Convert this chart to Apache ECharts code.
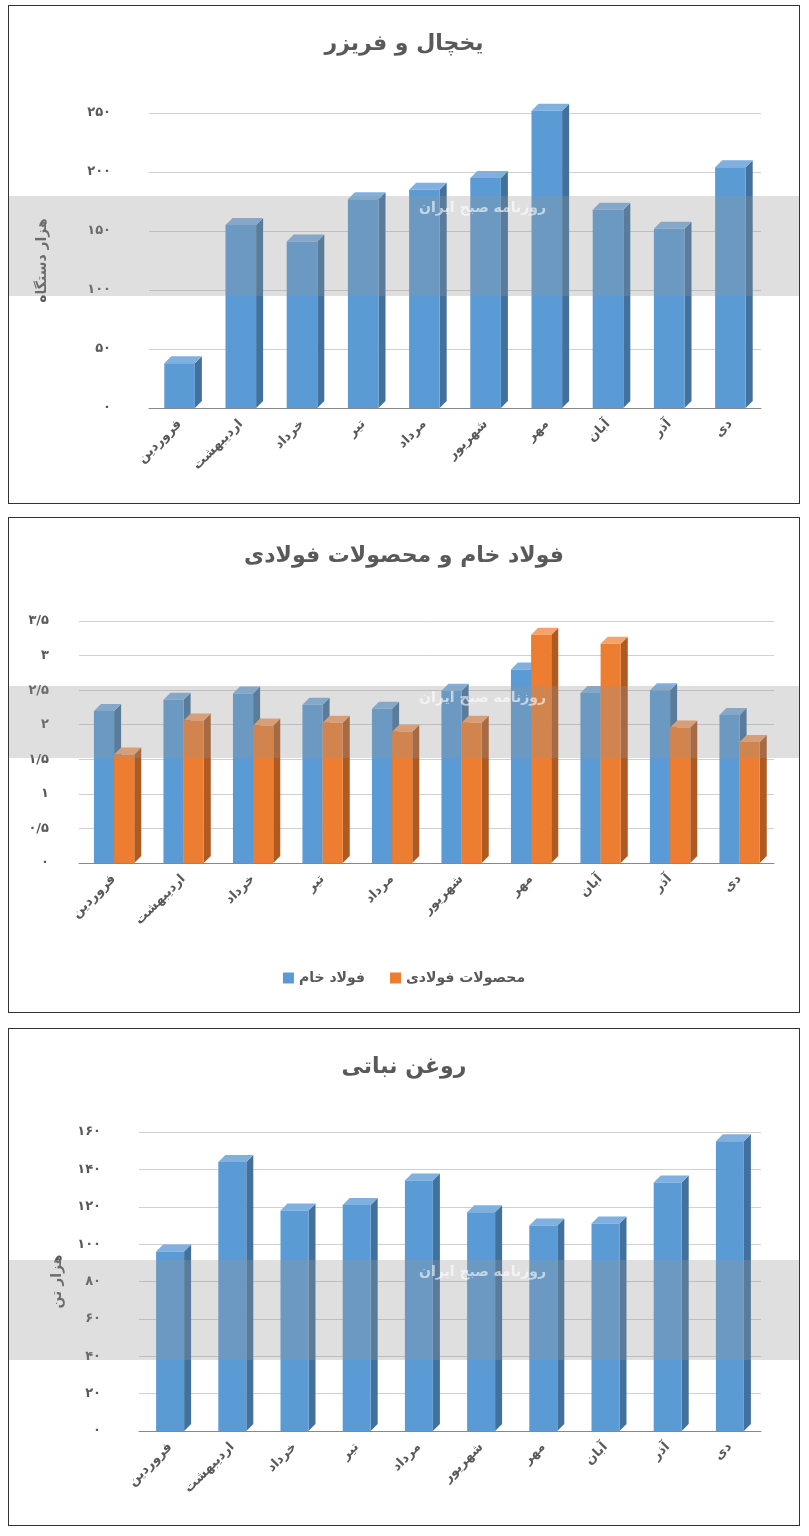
<!DOCTYPE html>
<html><head><meta charset="utf-8">
<script src="https://cdn.jsdelivr.net/npm/echarts@6/dist/echarts.min.js"></script>
<style>
body{margin:0;background:#fff;font-family:"DejaVu Sans";}
.p{position:absolute;left:8px;width:790px;border:1px solid #333;background:#fff;}
</style></head><body>
<div id="c1" class="p" style="top:5px;height:497px"></div>
<div id="c2" class="p" style="top:517px;height:494px"></div>
<div id="c3" class="p" style="top:1028px;height:496px"></div>
<script>
const months = ['فروردین','اردیبهشت','خرداد','تیر','مرداد','شهریور','مهر','آبان','آذر','دی'];
const fridge = [38,155,141,177,185,195,252,168,152,204];
const crudeSteel = [2.2,2.36,2.45,2.29,2.23,2.49,2.8,2.46,2.5,2.14];
const steelProducts = [1.57,2.06,1.99,2.03,1.9,2.03,3.3,3.17,1.96,1.75];
const vegOil = [96,144,118,121,134,117,110,111,133,155];

const fa = v => String(v).replace('.', '/').replace(/\d/g, d => '۰۱۲۳۴۵۶۷۸۹'[d]);
const BLUE = ['#5b9bd5','#41719c','#7fb0df'], ORANGE = ['#ed7d31','#ae5a21','#f4a36b'];

function render3d(off, wf, c){
  return function(params, api){
    const p = api.coord([api.value(0), api.value(1)]);
    const b = api.coord([api.value(0), 0]);
    const bw = api.size([1,0])[0];
    const w = bw*wf, x0 = p[0] + bw*off - w/2, y0 = p[1], y1 = b[1], d = 7;
    return {type:'group', children:[
      {type:'polygon', shape:{points:[[x0+w,y0],[x0+w+d,y0-d],[x0+w+d,y1-d],[x0+w,y1]]}, style:{fill:c[1]}},
      {type:'polygon', shape:{points:[[x0,y0],[x0+d,y0-d],[x0+w+d,y0-d],[x0+w,y0]]}, style:{fill:c[2]}},
      {type:'rect', shape:{x:x0,y:y0,width:w,height:y1-y0}, style:{fill:c[0]}}
    ]};
  };
}
function ser(name, vals, off, wf, c){
  return {type:'custom', name, renderItem:render3d(off,wf,c), itemStyle:{color:c[0]},
    encode:{x:0,y:1}, data:vals.map((v,i)=>[i,v])};
}
function base(title, grid, ymax, interval, yname, series, band, gap){
  return {
    animation:false,
    title:{text:title,left:'center',top:22,textStyle:{fontFamily:'DejaVu Sans',fontSize:22,fontWeight:'bold',color:'#595959'}},
    grid,
    xAxis:{type:'category',data:months,axisTick:{show:false},
      axisLine:{lineStyle:{color:'#888'}},
      axisLabel:{rotate:45,interval:0,fontFamily:'DejaVu Sans',fontSize:13,fontWeight:'bold',color:'#595959',margin:14}},
    yAxis:{type:'value',min:0,max:ymax,interval,name:yname,nameLocation:'middle',nameGap:gap||80,
      nameTextStyle:{fontFamily:'DejaVu Sans',fontSize:14,fontWeight:'bold',color:'#595959'},
      axisLine:{show:false},axisTick:{show:false},
      splitLine:{lineStyle:{color:'#d0d0d0'}},
      axisLabel:{formatter:fa,fontFamily:'DejaVu Sans',fontSize:13,fontWeight:'bold',color:'#595959',margin:38}},
    series,
    graphic:[{type:'rect',left:0,top:band[0],shape:{width:790,height:band[1]},style:{fill:'rgba(150,150,150,0.3)'},z:100},
      {type:'text',left:410,top:band[0]+5,style:{text:'روزنامه صبح ایران',fill:'rgba(255,255,255,0.6)',font:'bold 14px DejaVu Sans'},z:101}]
  };
}
echarts.init(document.getElementById('c1')).setOption(base('یخچال و فریزر',
  {left:140,right:38,top:107,bottom:95},250,50,'هزار دستگاه',
  [ser('یخچال و فریزر',fridge,0,0.5,BLUE)],[190,100],100));
const o2 = base('فولاد خام و محصولات فولادی',
  {left:70,right:25,top:103,bottom:149},3.5,0.5,'',
  [ser('فولاد خام',crudeSteel,-0.14,0.29,BLUE),ser('محصولات فولادی',steelProducts,0.15,0.29,ORANGE)],[168,72]);
o2.legend={bottom:22,left:'center',itemGap:25,icon:'rect',itemWidth:11,itemHeight:11,
  textStyle:{fontFamily:'DejaVu Sans',fontSize:14,fontWeight:'bold',color:'#595959'}};
o2.yAxis.axisLabel.margin=30;
echarts.init(document.getElementById('c2')).setOption(o2);
echarts.init(document.getElementById('c3')).setOption(base('روغن نباتی',
  {left:130,right:38,top:103,bottom:94},160,20,'هزار تن',
  [ser('روغن نباتی',vegOil,0,0.45,BLUE)],[231,100],75));
</script></body></html>
